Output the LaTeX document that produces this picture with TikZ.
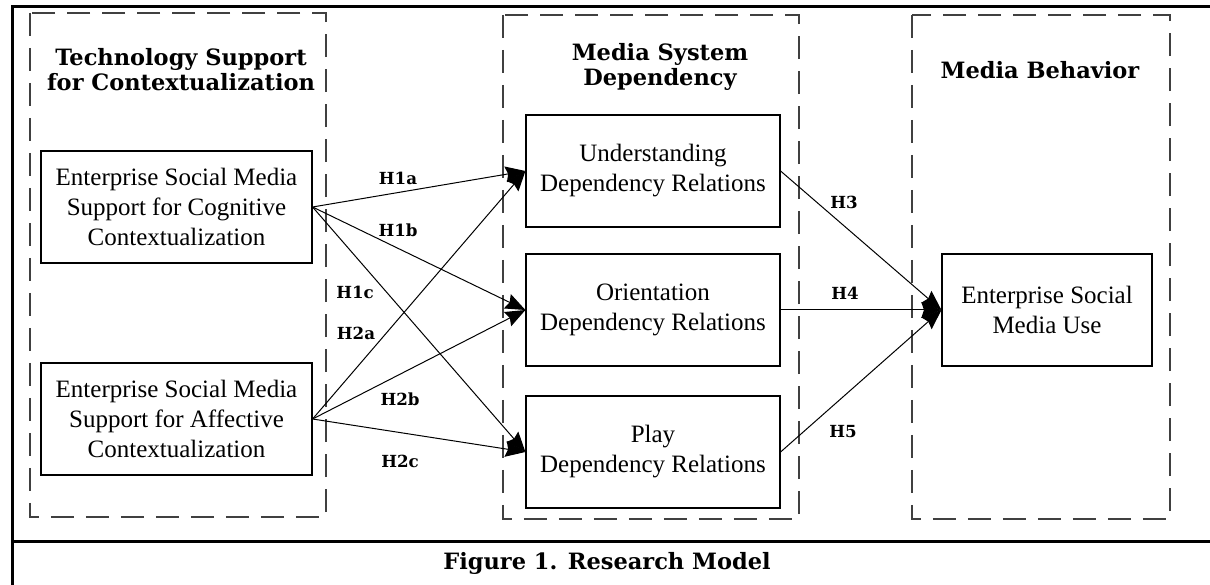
\documentclass[tikz,border=0pt]{standalone}
\usepackage{fontspec}
\setmainfont{Liberation Serif}
\newfontfamily\headfont{DejaVu Serif}
\usetikzlibrary{arrows.meta}
\tikzset{
  factor/.style={draw=black, line width=0.7pt, align=center, inner sep=0pt,
    font=\fontsize{15}{18}\selectfont, minimum width=#1},
  factor/.default=152.4pt,
  group/.style={draw=black!75, line width=0.9pt, dash pattern=on 13.8pt off 7.2pt},
  grouptitle/.style={align=center, font=\headfont\bfseries\fontsize{13.5}{15}\selectfont},
  hyp/.style={line width=0.6pt, -{Stealth[length=12pt,width=9.5pt,inset=1.5pt]}},
  hlabel/.style={font=\headfont\bfseries\fontsize{10}{11}\selectfont}
}

\begin{document}
\begin{tikzpicture}[x=0.6pt, y=-0.6pt]
		%%%%% START %%%%%
		\useasboundingbox (0,0) rectangle (1210,585);
		
		% frame and caption
		\draw[line width=1.8pt] (12,585) -- (12,7) -- (1210,7);
		\draw[line width=1.8pt] (12,542) -- (1210,542);
		\node[font=\headfont\bfseries\fontsize{13.5}{15}\selectfont] (caption) at (607,563) {Figure 1. Research Model};
		
		% the three groups
		\draw[group] (30,13) rectangle (326,517);
		\draw[group] (503,15) rectangle (799,519);
		\draw[group] (912,15) rectangle (1170,519);
		\node[grouptitle] (techtitle) at (181,70) {Technology Support\\for Contextualization};
		\node[grouptitle] (mediatitle) at (660,67) {Media System\\Dependency};
		\node[grouptitle] (behavtitle) at (1040,70) {Media Behavior};
		
		% factors
		\node[factor=162.6pt, minimum height=67.2pt] (cog) at (176.5,207) {Enterprise Social Media\\Support for Cognitive\\Contextualization};
		\node[factor=162.6pt, minimum height=67.2pt] (aff) at (176.5,419) {Enterprise Social Media\\Support for Affective\\Contextualization};
		\node[factor, minimum height=67.2pt] (und) at (653,171) {Understanding\\Dependency Relations};
		\node[factor, minimum height=67.2pt] (ori) at (653,310) {Orientation\\Dependency Relations};
		\node[factor, minimum height=67.2pt] (play) at (653,452) {Play\\Dependency Relations};
		\node[factor=126pt, minimum height=67.2pt] (use) at (1047,310) {Enterprise Social\\Media Use};
		
		% hypotheses
		\draw[hyp] (cog.east) -- (und.west);
		\draw[hyp] (cog.east) -- (ori.west);
		\draw[hyp] (cog.east) -- (play.west);
		\draw[hyp] (aff.east) -- (und.west);
		\draw[hyp] (aff.east) -- (ori.west);
		\draw[hyp] (aff.east) -- (play.west);
		\draw[hyp] (und.east) -- (use.west);
		\draw[hyp] (ori.east) -- (use.west);
		\draw[hyp] (play.east) -- (use.west);
		
		\node[hlabel] (h1a) at (398,178) {H1a};
		\node[hlabel] (h1b) at (398,230) {H1b};
		\node[hlabel] (h1c) at (355,292) {H1c};
		\node[hlabel] (h2a) at (356,333) {H2a};
		\node[hlabel] (h2b) at (400,399) {H2b};
		\node[hlabel] (h2c) at (400,461) {H2c};
		\node[hlabel] (h3) at (844,202) {H3};
		\node[hlabel] (h4) at (845,293) {H4};
		\node[hlabel] (h5) at (843,432) {H5};
		%%%%% END %%%%%
\end{tikzpicture}
\end{document}
